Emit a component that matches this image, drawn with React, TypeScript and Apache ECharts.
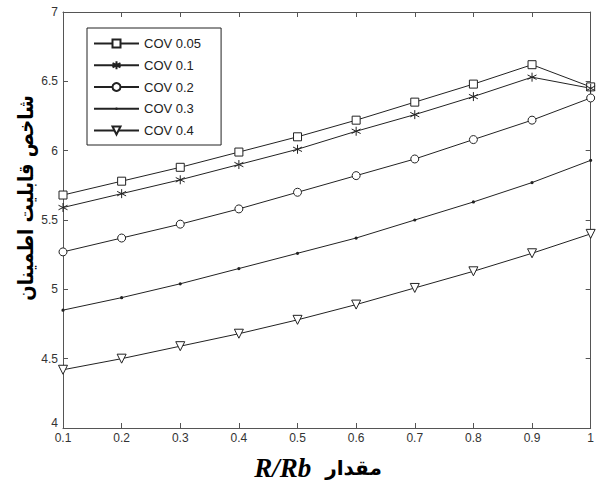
import React, { useEffect, useRef } from "react";
import * as echarts from "echarts";

const xValues = [0.1, 0.2, 0.3, 0.4, 0.5, 0.6, 0.7, 0.8, 0.9, 1.0];
const cov005 = [5.68, 5.78, 5.88, 5.99, 6.1, 6.22, 6.35, 6.48, 6.62, 6.46];
const cov01 = [5.59, 5.69, 5.79, 5.9, 6.01, 6.14, 6.26, 6.39, 6.53, 6.45];
const cov02 = [5.27, 5.37, 5.47, 5.58, 5.7, 5.82, 5.94, 6.08, 6.22, 6.38];
const cov03 = [4.85, 4.94, 5.04, 5.15, 5.26, 5.37, 5.5, 5.63, 5.77, 5.93];
const cov04 = [4.42, 4.5, 4.59, 4.68, 4.78, 4.89, 5.01, 5.13, 5.26, 5.4];
const seriesNames = ["COV 0.05", "COV 0.1", "COV 0.2", "COV 0.3", "COV 0.4"];
const yTitle = "شاخص قابلیت اطمینان";
const xTitleLatin = "R/Rb";
const xTitlePersian = "مقدار";

const ASTERISK = "path://M5,0L5,10M0.7,2.5L9.3,7.5M0.7,7.5L9.3,2.5";
const DOT =
  "path://M0,0L0.01,0L0,0.01Z M10,10L9.99,10L10,9.99Z M3.4,5A1.6,1.6,0,1,0,6.6,5A1.6,1.6,0,1,0,3.4,5Z";

export default function App() {
  const ref = useRef<HTMLDivElement>(null);
  useEffect(() => {
    if (!ref.current) return;
    const chart = echarts.init(ref.current, undefined, { renderer: "svg" });
    const lineColor = "#222";
    const axisColor = "#555";
    const mk = (name: string, vals: number[], symbol: string, size: number, extra: any = {}) => ({
      name,
      type: "line",
      data: vals.map((v, i) => [xValues[i], v]),
      symbol,
      symbolSize: size,
      showSymbol: true,
      lineStyle: { color: lineColor, width: 1 },
      itemStyle: { color: "#fff", borderColor: lineColor, borderWidth: 1 },
      emphasis: { disabled: true },
      ...extra,
    });
    const tickLabel = { color: "#333", fontSize: 12, fontFamily: "Liberation Sans, Arial, sans-serif" };
    const axisCommon = {
      type: "value",
      axisLine: { show: true, lineStyle: { color: axisColor, width: 1 } },
      axisTick: { show: true, inside: true, length: 5, lineStyle: { color: axisColor } },
      splitLine: { show: false },
    };
    chart.setOption({
      animation: false,
      grid: { left: 63, top: 12, right: 2, bottom: 54, containLabel: false },
      legend: {
        orient: "vertical",
        left: 87,
        top: 28,
        padding: [9, 20, 8, 6],
        itemGap: 8.75,
        itemWidth: 45,
        itemHeight: 10,
        borderColor: "#222",
        borderWidth: 1,
        backgroundColor: "#fff",
        textStyle: { color: "#222", fontSize: 13, fontFamily: "Liberation Sans, Arial, sans-serif" },
        data: seriesNames,
      },
      xAxis: [
        {
          ...axisCommon,
          min: 0.1,
          max: 1,
          interval: 0.1,
          axisLabel: { ...tickLabel, margin: 4, formatter: (v: number) => String(Math.round(v * 10) / 10) },
        },
        {
          ...axisCommon,
          position: "top",
          min: 0.1,
          max: 1,
          interval: 0.1,
          axisLabel: { show: false },
        },
      ],
      yAxis: [
        {
          ...axisCommon,
          min: 4,
          max: 7,
          interval: 0.5,
          axisLabel: {
            ...tickLabel,
            margin: 5,
            formatter: (v: number) => (v === 4 ? "{low|4}" : String(v)),
            rich: { low: { ...tickLabel, padding: [0, 0, 10, 0] } },
          },
        },
        {
          ...axisCommon,
          position: "right",
          min: 4,
          max: 7,
          interval: 0.5,
          axisLabel: { show: false },
        },
      ],
      series: [
        mk(seriesNames[0], cov005, "rect", 8),
        mk(seriesNames[1], cov01, ASTERISK, 9, { itemStyle: { color: "none", borderColor: lineColor, borderWidth: 1 } }),
        mk(seriesNames[2], cov02, "circle", 8),
        mk(seriesNames[3], cov03, DOT, 10, { itemStyle: { color: lineColor, borderColor: lineColor, borderWidth: 0 } }),
        mk(seriesNames[4], cov04, "triangle", 9, { symbolRotate: 180 }),
      ],
      graphic: [
        {
          type: "text",
          x: 26,
          y: 198,
          rotation: Math.PI / 2,
          scaleY: 1.15,
          style: {
            text: yTitle,
            fill: "#000",
            font: "bold 18px 'DejaVu Sans', sans-serif",
            textAlign: "center",
            textVerticalAlign: "middle",
          },
        },
        {
          type: "text",
          x: 318,
          y: 468,
          style: {
            text: "{a|" + xTitleLatin + "}{b|" + xTitlePersian + "}",
            textAlign: "center",
            textVerticalAlign: "middle",
            rich: {
              a: {
                font: "italic bold 27px 'Liberation Serif', 'Times New Roman', serif",
                fill: "#000",
                padding: [0, 14, 0, 0],
              },
              b: { font: "bold 20px 'DejaVu Sans', sans-serif", fill: "#000" },
            },
          },
        },
      ],
    });
    return () => chart.dispose();
  }, []);
  return <div ref={ref} style={{ position: "absolute", left: 0, top: 0, width: 597, height: 482 }} />;
}
